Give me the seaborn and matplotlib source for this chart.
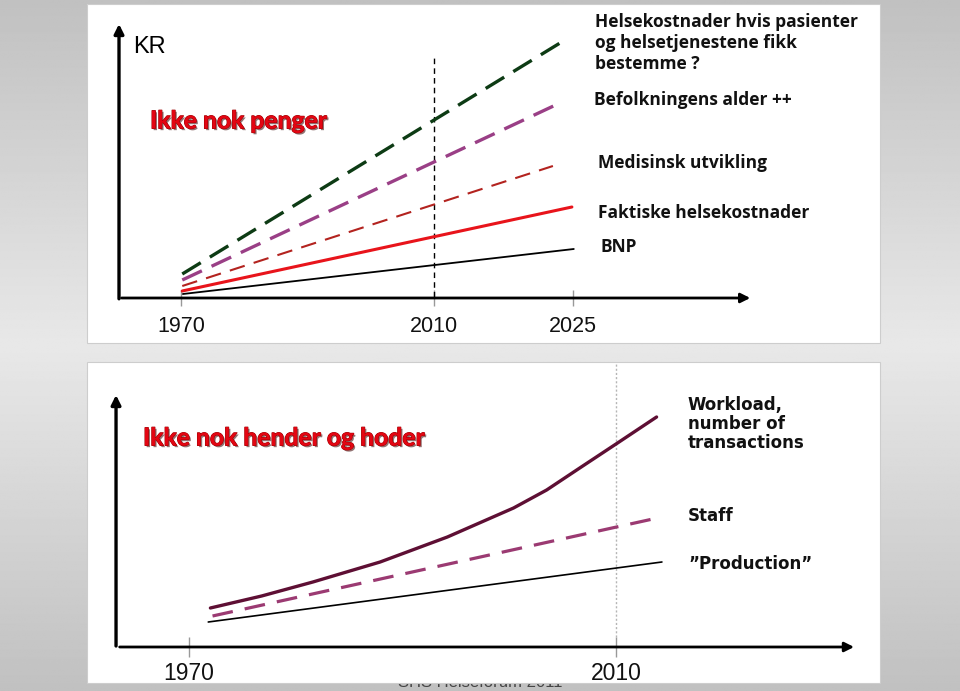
import numpy as np
import matplotlib
matplotlib.use("Agg")
import matplotlib.pyplot as plt
import matplotlib.patheffects as pe
from matplotlib.patches import Rectangle
import seaborn as sns

# ---------------- data ----------------
# Top panel ("KR"): x axis is not to scale in the original; 2025 sits at position 2032
top_tick_pos = [1970, 2010, 2032]
top_tick_labels = ["1970", "2010", "2025"]
top_names = [
    "Helsekostnader hvis pasienter\nog helsetjenestene fikk\nbestemme ?",
    "Befolkningens alder ++",
    "Medisinsk utvikling",
    "Faktiske helsekostnader",
    "BNP",
]
top_x = [[1970.2, 2030.7], [1970.2, 2029.9], [1970.2, 2028.8], [1970.2, 2031.8], [1970.3, 2032.1]]
top_y = [[23, 257], [17, 194], [11, 131], [6, 90], [3, 48]]
top_colors = ["#0d3b14", "#9a3f86", "#b3231f", "#e8141b", "#000000"]
top_widths = [2.4, 2.4, 1.5, 2.2, 1.3]
top_styles = [(0, (6.5, 3.2)), (0, (6.5, 3.2)), (0, (7.5, 4.5)), "-", "-"]
top_ref_year = 2010
top_ref_top = 239

# Bottom panel
bot_tick_pos = [1970, 2010]
bot_tick_labels = ["1970", "2010"]
bot_names = ["Workload,\nnumber of\ntransactions", "Staff", "\u201dProduction\u201d"]
workload_x = [1972.0, 1976.8, 1981.6, 1987.9, 1994.2, 2000.4, 2003.5, 2006.6, 2010.0, 2013.8]
workload_y = [39, 51, 65, 85, 110, 139, 157, 179, 203, 230]
staff_x = [1972.2, 2014.3]
staff_y = [31, 130]
prod_x = [1971.8, 2014.3]
prod_y = [25, 85]
bot_colors = ["#5e0f34", "#9b3a72", "#000000"]
bot_widths = [2.4, 2.3, 1.2]
bot_styles = ["-", (0, (6.5, 3.8)), "-"]
bot_ref_year = 2010

# ---------------- figure ----------------
sns.set_theme(style="white")
plt.rcParams["font.family"] = ["Liberation Sans", "DejaVu Sans"]

W, H = 960, 691
fig = plt.figure(figsize=(9.6, 6.91), dpi=100)

# background gradient
bg = fig.add_axes([0, 0, 1, 1], zorder=-2)
yy = np.linspace(0, 1, 400)
g = 0.91 - 0.155 * np.abs(yy - 0.5) * 2
bg.imshow(np.tile(g[:, None], (1, 10)), cmap="gray", vmin=0, vmax=1,
          aspect="auto", extent=[0, 1, 0, 1], origin="upper")
bg.set_axis_off()

# faint footer text partly hidden behind the lower panel
fig.text(480 / W, 1 - 690 / H, "SHS Helseforum 2011", ha="center", va="bottom",
         fontsize=12, color="#444444", zorder=-1)


def px_axes(x0, y0, x1, y1):
    return fig.add_axes([x0 / W, 1 - y1 / H, (x1 - x0) / W, (y1 - y0) / H], zorder=0)


def frame(x0, y0, x1, y1):
    fig.patches.append(Rectangle((x0 / W, 1 - y1 / H), (x1 - x0) / W, (y1 - y0) / H,
                                 transform=fig.transFigure, fill=False,
                                 edgecolor="#cdcdcd", lw=0.8, zorder=0.5))


arrow_kw = dict(arrowstyle="-|>", color="black", mutation_scale=14, shrinkA=0, shrinkB=0)
title_fx = [pe.withSimplePatchShadow(offset=(1.2, -1.2), shadow_rgbFace="#3a0000", alpha=0.55),
            pe.Stroke(linewidth=0.7, foreground="#9a0000"), pe.Normal()]

# ---------- top panel ----------
ax1 = px_axes(87, 4, 880, 343)
frame(87, 4, 880, 343)
ax1.set_facecolor("white")
ax1.set_xlim(1955.14, 2080.51)
ax1.set_ylim(-46, 293)
for s in ax1.spines.values():
    s.set_visible(False)
ax1.spines["bottom"].set_position(("data", -1))
ax1.set_yticks([])
ax1.set_xticks(top_tick_pos, top_tick_labels)
ax1.tick_params(axis="x", bottom=True, length=12, direction="inout", color="#999999",
                width=1, pad=7, labelsize=15.5, labelcolor="#111111")
ax1.set_xlabel("")
ax1.set_ylabel("")

ax1.vlines(top_ref_year, 0, top_ref_top, colors="black", lw=1.0, linestyles=(0, (4, 3)))
for xs, ys, c, lw, ls in zip(top_x, top_y, top_colors, top_widths, top_styles):
    sns.lineplot(x=xs, y=ys, ax=ax1, color=c, lw=lw, linestyle=ls,
                 legend=False, estimator=None, sort=False)

ax1.annotate("", xy=(1960.2, 273), xytext=(1960.2, -1.8), arrowprops=dict(lw=2.4, **arrow_kw))
ax1.annotate("", xy=(2060.0, -1), xytext=(1960.6, -1), arrowprops=dict(lw=2.0, **arrow_kw))

fig.text(133 / W, 1 - 47 / H, "KR", ha="left", va="center", fontsize=17, color="black")
fig.text(150 / W, 1 - 121 / H, "Ikke nok penger", ha="left", va="center", fontsize=17.8,
         family="Lato", weight="bold", color="#e30613", path_effects=title_fx)

top_label_pos = [(595, 13, "top"), (594, 100, "center"), (598, 163, "center"),
                 (598, 213, "center"), (600, 247, "center")]
for name, (x, y, va) in zip(top_names, top_label_pos):
    fig.text(x / W, 1 - y / H, name, ha="left", va=va, fontsize=12.5, family="Open Sans",
             weight="bold", color="#111111", linespacing=1.22)

# ---------- bottom panel ----------
ax2 = px_axes(87, 362, 880, 683)
frame(87, 362, 880, 683)
ax2.set_facecolor("white")
ax2.set_xlim(1960.44, 2034.73)
ax2.set_ylim(-36, 285)
for s in ax2.spines.values():
    s.set_visible(False)
ax2.spines["bottom"].set_position(("data", 0))
ax2.set_yticks([])
ax2.set_xticks(bot_tick_pos, bot_tick_labels)
ax2.tick_params(axis="x", bottom=True, length=15, direction="inout", color="#999999",
                width=1, pad=3.5, labelsize=16.5, labelcolor="#111111")

ax2.vlines(bot_ref_year, 10, 285, colors="#b5b5b5", lw=1.0, linestyles=(0, (1.5, 1.5)))
for xs, ys, c, lw, ls in zip([workload_x, staff_x, prod_x], [workload_y, staff_y, prod_y],
                             bot_colors, bot_widths, bot_styles):
    sns.lineplot(x=xs, y=ys, ax=ax2, color=c, lw=lw, linestyle=ls,
                 legend=False, estimator=None, sort=False)

ax2.annotate("", xy=(1963.16, 252), xytext=(1963.16, 1), arrowprops=dict(lw=2.4, **arrow_kw))
ax2.annotate("", xy=(2032.3, 0), xytext=(1963.5, 0), arrowprops=dict(lw=2.0, **arrow_kw))

fig.text(143 / W, 1 - 438 / H, "Ikke nok hender og hoder", ha="left", va="center", fontsize=17.8,
         family="Lato", weight="bold", color="#e30613", path_effects=title_fx)

bot_label_pos = [(688, 396, "top"), (688, 516, "center"), (688, 564, "center")]
for name, (x, y, va) in zip(bot_names, bot_label_pos):
    fig.text(x / W, 1 - y / H, name, ha="left", va=va, fontsize=12, family="DejaVu Sans",
             weight="bold", color="#111111", linespacing=1.08)

fig.savefig("out.png", dpi=100)
